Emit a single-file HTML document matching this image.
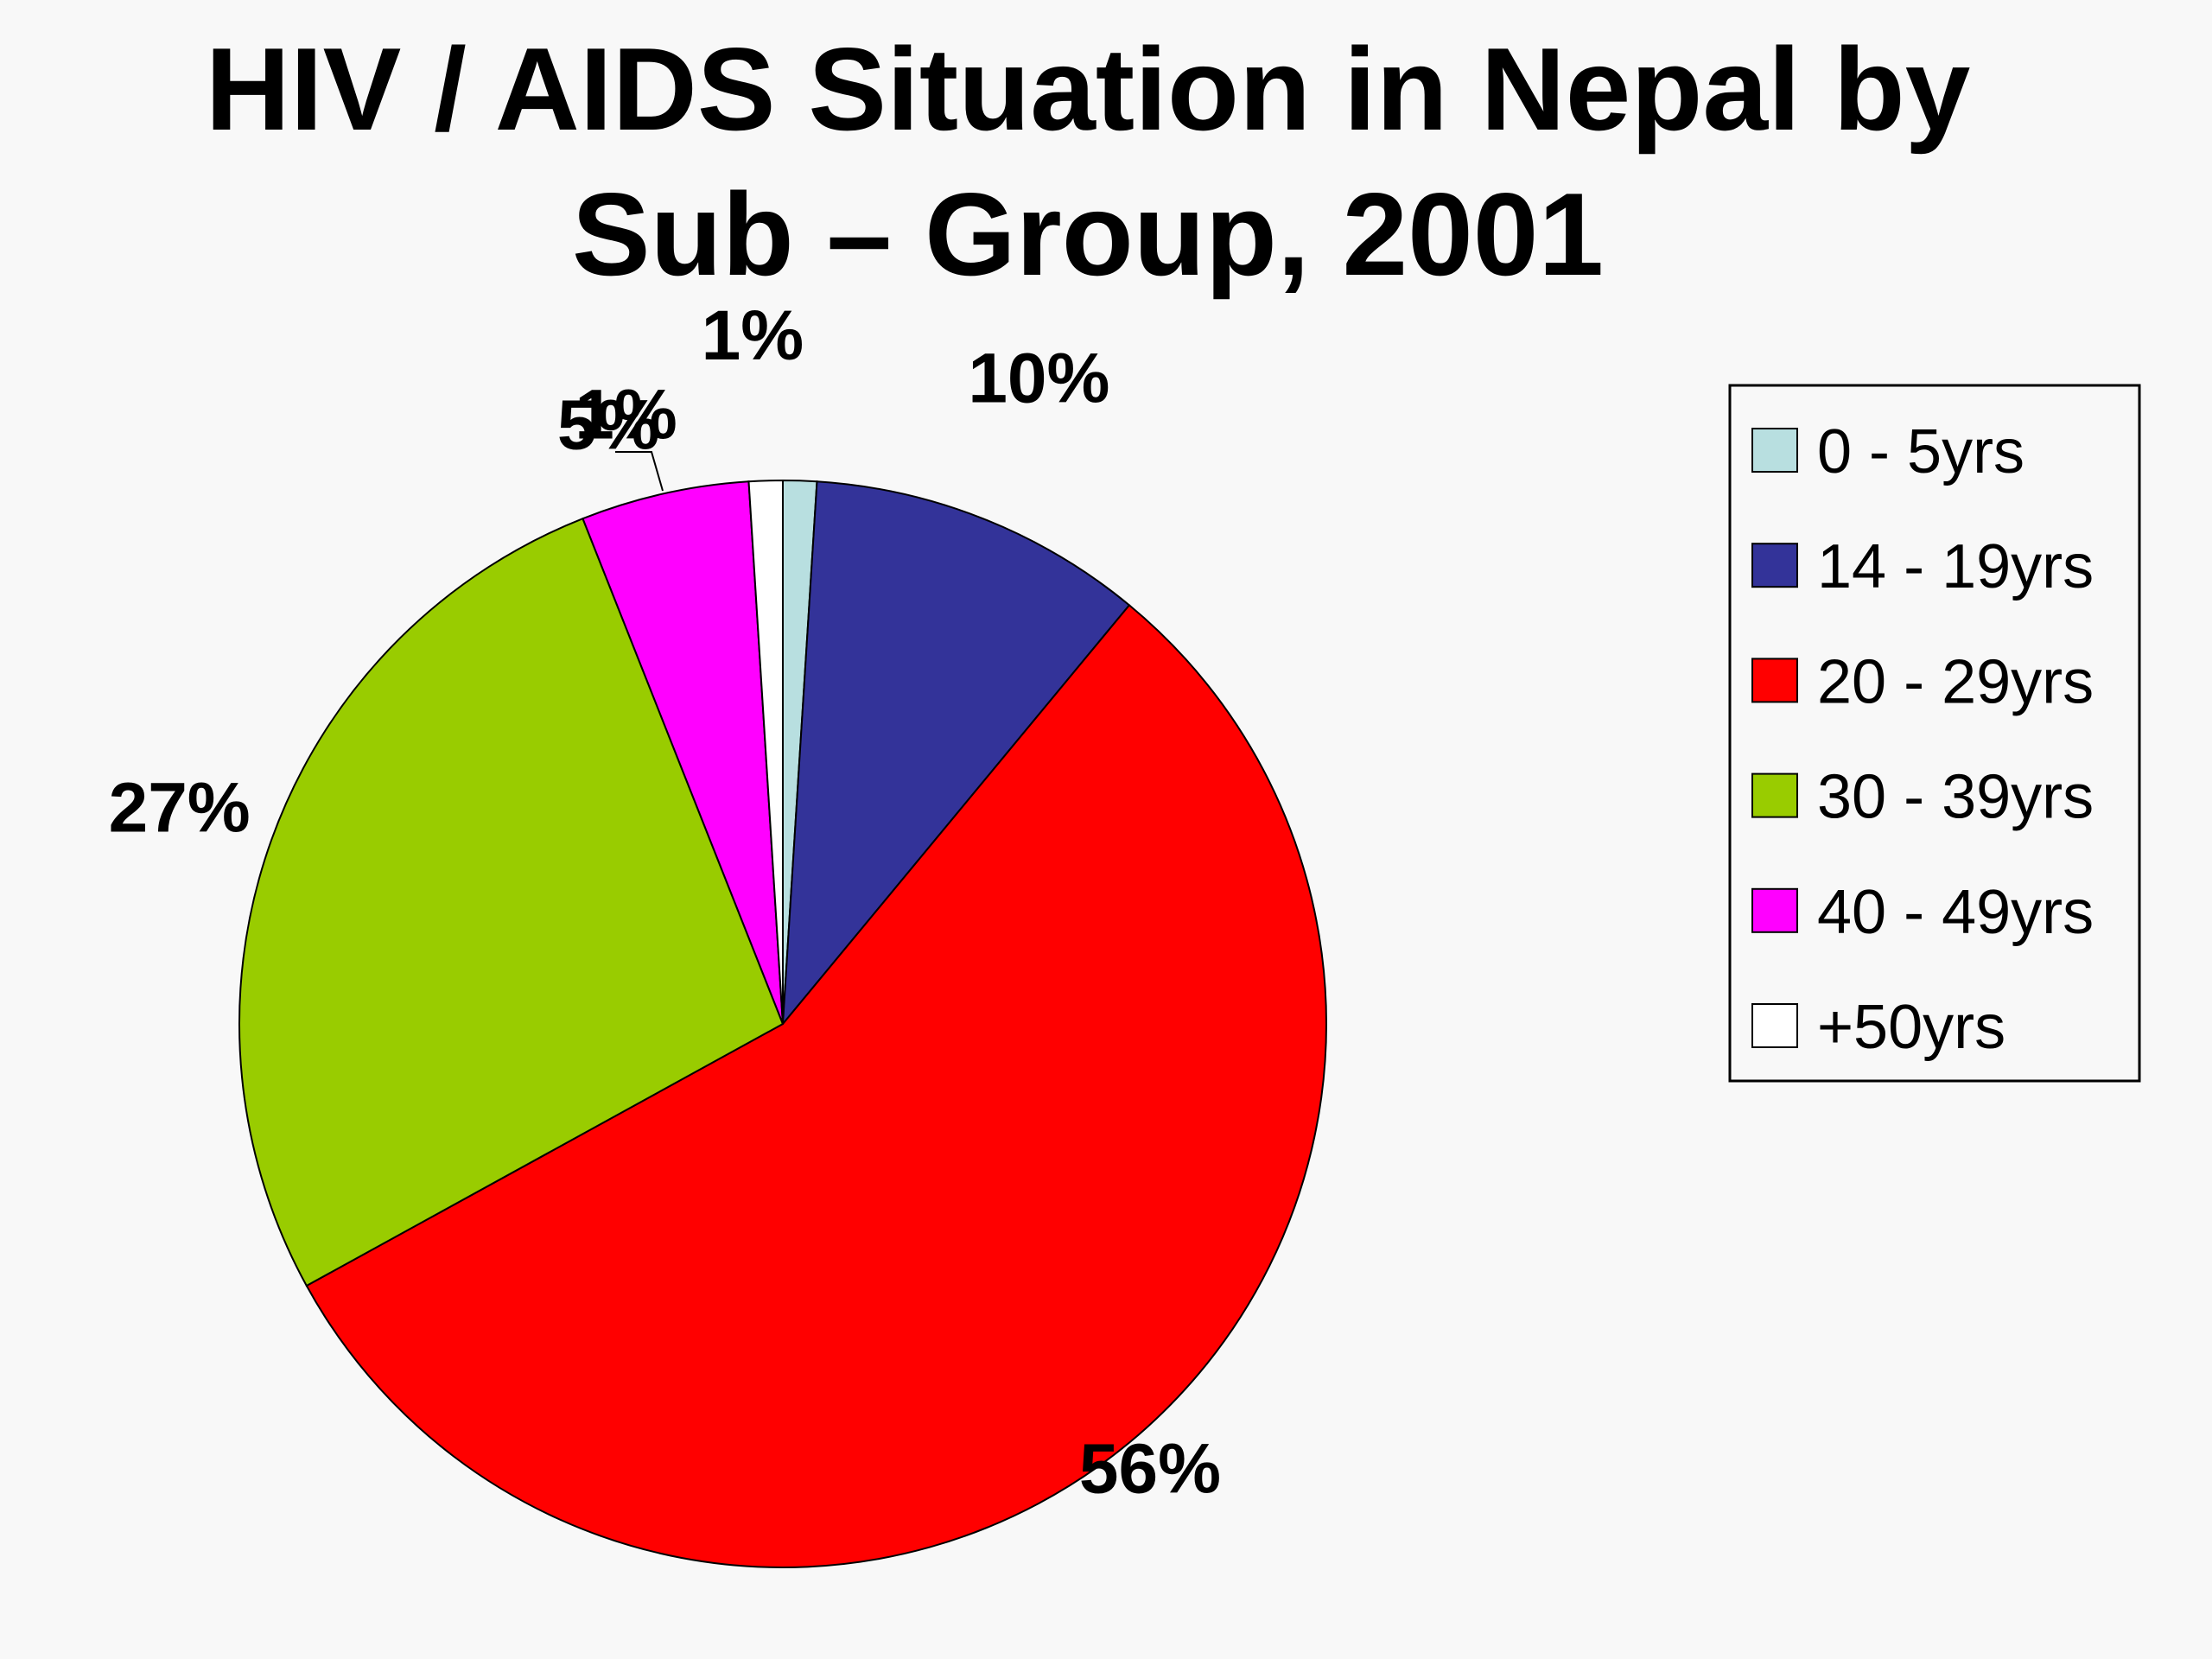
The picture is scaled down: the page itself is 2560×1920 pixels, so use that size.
<!DOCTYPE html>
<html><head><meta charset="utf-8"><style>
html,body{margin:0;padding:0;background:#f8f8f8;}
svg{display:block;font-family:"Liberation Sans",Arial,sans-serif;}
</style></head><body>
<svg id="chart" width="2560" height="1920" viewBox="0 0 2560 1920">
<rect width="2560" height="1920" fill="#f8f8f8"/>
<text x="1259" y="150" text-anchor="middle" font-size="136" font-weight="bold">HIV / AIDS  Situation in Nepal by</text>
<text x="1259" y="318" text-anchor="middle" font-size="136" font-weight="bold">Sub – Group, 2001</text>
<g id="slices"></g>
<g id="labels"></g>
<polyline points="712,523 754,523 767,568" fill="none" stroke="#000" stroke-width="2"/>
<g>
<rect x="2002" y="446" width="474" height="805" fill="#f8f8f8" stroke="#000" stroke-width="3"/>
<g id="legend"></g>
</g>
</svg>
<script>
const categories = ["0 - 5yrs","14 - 19yrs","20 - 29yrs","30 - 39yrs","40 - 49yrs","+50yrs"];
const values = [1,10,56,27,5,1];
const valueLabels = ["1%","10%","56%","27%","5%","1%"];
const colors = ["#b8dfe0","#333399","#ff0000","#99cc00","#ff00ff","#ffffff"];
const cx=906, cy=1185, r=629;
const NS="http://www.w3.org/2000/svg";
const total = values.reduce((a,b)=>a+b,0);
function pt(frac, rad){const a=frac*2*Math.PI-Math.PI/2;return [cx+rad*Math.cos(a), cy+rad*Math.sin(a)];}
const sg=document.getElementById('slices'), lg=document.getElementById('labels'), leg=document.getElementById('legend');
let acc=0;
const labelOffsets=[[-0.012,1.27],[0,1.28],[0,1.06],[0,1.18],[-0.01,1.15],[-0.035,1.16]];
values.forEach((v,i)=>{
  const f0=acc/total, f1=(acc+v)/total; acc+=v;
  const [x0,y0]=pt(f0,r),[x1,y1]=pt(f1,r);
  const large=(f1-f0)>0.5?1:0;
  const p=document.createElementNS(NS,'path');
  p.setAttribute('d',`M${cx},${cy} L${x0},${y0} A${r},${r} 0 ${large} 1 ${x1},${y1} Z`);
  p.setAttribute('fill',colors[i]);p.setAttribute('stroke','#000');p.setAttribute('stroke-width','2');
  
  
  sg.appendChild(p);
  const mid=(f0+f1)/2+labelOffsets[i][0];
  const [lx,ly]=pt(mid,r*labelOffsets[i][1]);
  const t=document.createElementNS(NS,'text');
  t.setAttribute('x',lx);t.setAttribute('y',ly+29);t.setAttribute('text-anchor','middle');
  t.setAttribute('font-size','82');t.setAttribute('font-weight','bold');
  t.textContent=valueLabels[i];
  
  
  lg.appendChild(t);
  const y=521+i*133.2;
  const s=document.createElementNS(NS,'rect');
  s.setAttribute('x',2028);s.setAttribute('y',y-25);s.setAttribute('width',52);s.setAttribute('height',50);
  s.setAttribute('fill',colors[i]);s.setAttribute('stroke','#000');s.setAttribute('stroke-width','2');
  
  
  leg.appendChild(s);
  const lt=document.createElementNS(NS,'text');
  lt.setAttribute('x',2103);lt.setAttribute('y',y+26);lt.setAttribute('font-size','72');
  lt.textContent=categories[i];
  
  
  leg.appendChild(lt);
});
</script>
</body></html>
